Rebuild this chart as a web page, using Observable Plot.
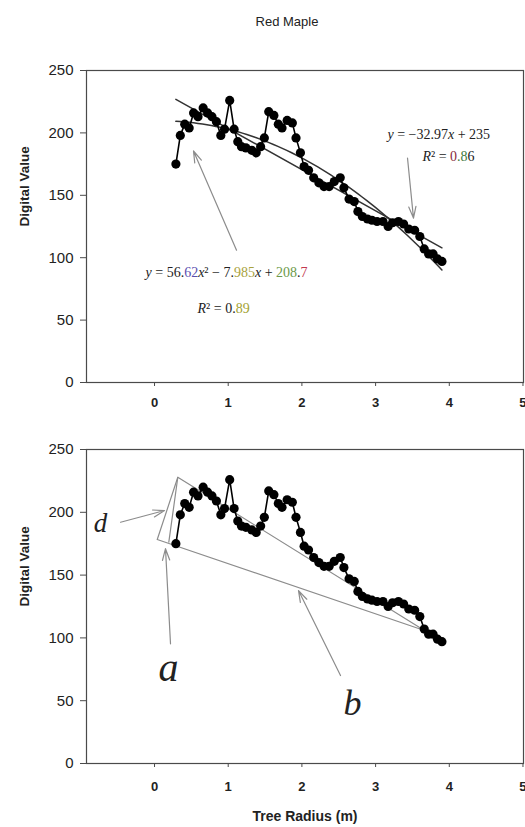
<!DOCTYPE html>
<html><head><meta charset="utf-8">
<script src="https://cdn.jsdelivr.net/npm/d3@7"></script>
<script src="https://cdn.jsdelivr.net/npm/@observablehq/plot@0.6"></script>
<style>
body{margin:0;background:#fff;}
#wrap{position:relative;width:525px;height:827px;overflow:hidden;background:#fff;}
#top,#bot{position:absolute;left:0;}
#top{top:0px}
#bot{top:420px}
#title{position:absolute;top:14px;left:0;width:574px;text-align:center;font:13px "Liberation Sans",Arial,sans-serif;color:#222;}
</style></head><body>
<div id="wrap"><div id="top"></div><div id="bot"></div><div id="title">Red Maple</div></div>
<script>
// ---- data ----
const radius = [0.29,0.35,0.41,0.47,0.53,0.59,0.66,0.72,0.78,0.84,0.90,0.95,1.02,1.08,1.13,1.18,1.24,1.32,1.38,1.44,1.49,1.55,1.62,1.68,1.73,1.80,1.87,1.92,1.98,2.03,2.09,2.16,2.23,2.30,2.37,2.44,2.52,2.57,2.64,2.71,2.76,2.82,2.89,2.95,3.02,3.10,3.17,3.23,3.31,3.38,3.45,3.53,3.60,3.66,3.72,3.78,3.84,3.90];
const digitalValue = [175,198,207,204,216,213,220,216,213,209,198,203,226,203,193,189,188,186,184,189,196,217,214,207,204,210,208,196,184,173,170,164,160,157,157,161,164,156,147,145,137,133,131,130,129,129,125,128,129,127,123,122,117,107,103,103,99,97];
const xTicks = [0,1,2,3,4,5];
const yTicks = [0,50,100,150,200,250];
const xDomain = [-0.923, 5.007];
const yDomain = [0, 250];

// annotations (data units)
const topArrowsX1 = [1.113, 3.433], topArrowsY1 = [106.0, 179.9];
const topArrowsX2 = [0.529, 3.514], topArrowsY2 = [185.5, 131.7];
const eqLabels = ["y = 56.62x² − 7.985x + 208.7", "R² = 0.89", "y = −32.97x + 235", "R² = 0.86"];
const eqX = [-0.122, 0.583, 3.161, 3.636];
const eqY = [88.4, 59.4, 198.4, 180.7];

const triX = [0.037, 0.316, 3.663, 0.037];
const triY = [178.3, 227.9, 105.9, 178.3];
const innerX = [0.316, 0.194], innerY = [227.9, 176.2];
const botArrowsX1 = [-0.461, 0.217, 2.524], botArrowsY1 = [192.1, 95.3, 70.0];
const botArrowsX2 = [0.136, 0.149, 1.954], botArrowsY2 = [201.4, 171.0, 137.7];
const letters = ["d", "a", "b"];
const letterX = [-0.733, 0.19, 2.687];
const letterY = [191, 75.6, 47.8];
const letterSize = [27, 40, 36];

// ---- tables ----
const pts = radius.map((r, i) => ({r, v: digitalValue[i]}));
function polyfit(xs, ys, deg) {
  const n = deg + 1;
  const A = Array.from({length: n}, () => Array(n + 1).fill(0));
  xs.forEach((x, k) => {
    for (let r = 0; r < n; r++) {
      for (let c = 0; c < n; c++) A[r][c] += Math.pow(x, r + c);
      A[r][n] += ys[k] * Math.pow(x, r);
    }
  });
  for (let i = 0; i < n; i++) {
    let p = i;
    for (let j = i + 1; j < n; j++) if (Math.abs(A[j][i]) > Math.abs(A[p][i])) p = j;
    [A[i], A[p]] = [A[p], A[i]];
    for (let j = 0; j < n; j++) if (j !== i) {
      const f = A[j][i] / A[i][i];
      for (let c = i; c <= n; c++) A[j][c] -= f * A[i][c];
    }
  }
  return A.map((row, i) => row[n] / row[i]);
}
const lin = polyfit(radius, digitalValue, 1);
const quad = polyfit(radius, digitalValue, 2);
const x0 = d3.min(radius), x1 = d3.max(radius);
const linLine = [x0, x1].map(x => ({x, y: lin[0] + lin[1] * x}));
const quadLine = d3.range(0, 61).map(i => { const x = x0 + (x1 - x0) * i / 60; return {x, y: quad[0] + quad[1] * x + quad[2] * x * x}; });

const topArrows = topArrowsX1.map((_, i) => ({x1: topArrowsX1[i], y1: topArrowsY1[i], x2: topArrowsX2[i], y2: topArrowsY2[i]}));
const botArrows = botArrowsX1.map((_, i) => ({x1: botArrowsX1[i], y1: botArrowsY1[i], x2: botArrowsX2[i], y2: botArrowsY2[i]}));
const eqs = eqLabels.map((t, i) => ({t, x: eqX[i], y: eqY[i]}));
const tri = triX.map((x, i) => ({x, y: triY[i]}));
const inner = innerX.map((x, i) => ({x, y: innerY[i]}));
const lets = letters.map((t, i) => ({t, x: letterX[i], y: letterY[i], s: letterSize[i]}));

const rich = {
  "y = 56.62x² − 7.985x + 208.7": '<tspan font-style="italic">y</tspan> = 56.<tspan fill="#5a4fb0">62</tspan><tspan font-style="italic">x</tspan>² − 7.<tspan fill="#a9a23c">985</tspan><tspan font-style="italic">x</tspan> + <tspan fill="#6c9a4a">208</tspan>.<tspan fill="#c2384e">7</tspan>',
  "R² = 0.89": '<tspan font-style="italic">R</tspan>² = 0.<tspan fill="#a3a232">89</tspan>',
  "y = −32.97x + 235": '<tspan font-style="italic">y</tspan> = −32.97<tspan font-style="italic">x</tspan> + 235',
  "R² = 0.86": '<tspan font-style="italic">R</tspan>² = <tspan fill="#8a2a40">0</tspan><tspan fill="#3c7a3c">.8</tspan>6'
};

const sans = '"Liberation Sans", Arial, sans-serif';
const serif = '"Liberation Serif", "Times New Roman", serif';

function base(height, mt, mb, extra, xLabel, xPad) {
  return Plot.plot({
    width: 525, height, marginTop: mt, marginBottom: mb, marginLeft: 86, marginRight: 2,
    style: {fontFamily: sans, fontSize: "15px", color: "#222", background: "transparent", overflow: "visible"},
    x: {domain: xDomain}, y: {domain: yDomain},
    marks: [
      Plot.frame({stroke: "#4a4a4a", strokeWidth: 1.2}),
      Plot.axisY({ticks: yTicks, tickSize: 6, tickPadding: 7, label: null, fontSize: 15, stroke: "#4a4a4a", tickFormat: d3.format("d")}),
      Plot.axisX({ticks: xTicks, tickSize: 4, tickPadding: xPad, label: null, fontSize: 13, fontWeight: "bold", stroke: "#4a4a4a", tickFormat: d3.format("d")}),
      Plot.text([0], {frameAnchor: "left", dx: -62, rotate: -90, text: () => "Digital Value", fontWeight: "bold", fontSize: 13.5}),
      ...(xLabel ? [Plot.text([0], {frameAnchor: "bottom", dy: 57, text: () => xLabel, fontWeight: "bold", fontSize: 14})] : []),
      ...extra,
      Plot.line(pts, {x: "r", y: "v", stroke: "#000", strokeWidth: 1.6}),
      Plot.dot(pts, {x: "r", y: "v", r: 4.6, fill: "#000"})
    ]
  });
}

const topChart = base(420, 70, 38, [
  Plot.line(quadLine, {x: "x", y: "y", stroke: "#333", strokeWidth: 1.5}),
  Plot.line(linLine, {x: "x", y: "y", stroke: "#333", strokeWidth: 1.5}),
  Plot.arrow(topArrows, {x1: "x1", y1: "y1", x2: "x2", y2: "y2", stroke: "#8c8c8c", strokeWidth: 1.2, headLength: 15, headAngle: 35}),
  Plot.text(eqs, {x: "x", y: "y", text: "t", textAnchor: "start", fontFamily: serif, fontSize: 14, fill: "#222"})
], null, 11);
d3.select(topChart).selectAll("text").each(function () {
  const t = this.textContent; if (rich[t]) this.innerHTML = rich[t];
});
document.getElementById("top").append(topChart);

const botChart = base(407, 29, 64, [
  Plot.line(tri, {x: "x", y: "y", stroke: "#8c8c8c", strokeWidth: 1.2}),
  Plot.line(inner, {x: "x", y: "y", stroke: "#8c8c8c", strokeWidth: 1.2}),
  Plot.arrow(botArrows, {x1: "x1", y1: "y1", x2: "x2", y2: "y2", stroke: "#8c8c8c", strokeWidth: 1.2, headLength: 15, headAngle: 35}),
  Plot.text(lets, {x: "x", y: "y", text: "t", fontFamily: serif, fontStyle: "italic", fontSize: "s", fill: "#222"})
], "Tree Radius (m)", 14);
document.getElementById("bot").append(botChart);
</script>
</body></html>
